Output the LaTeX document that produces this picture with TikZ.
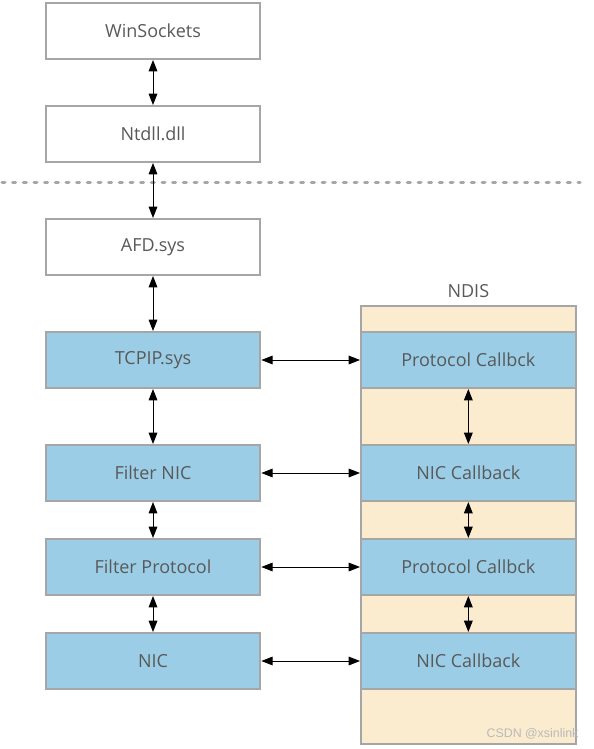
\documentclass[tikz,border=0pt]{standalone}
\usepackage{fontspec}
\setmainfont{Open Sans}
\newfontfamily\markfont{Liberation Sans}
\usepackage{xcolor}
\definecolor{boxblue}{RGB}{155,206,230}
\definecolor{ndisbeige}{RGB}{252,236,207}
\definecolor{edgegray}{RGB}{166,166,166}
\definecolor{textgray}{RGB}{89,89,89}
\usetikzlibrary{arrows.meta, positioning, fit, backgrounds}

\begin{document}
\begin{tikzpicture}[
  plain/.style={rectangle, draw=edgegray, line width=1.5pt, fill=white,
                minimum width=161pt, minimum height=42pt, inner sep=0pt,
                font=\fontsize{13.5}{16}\selectfont, text=textgray},
  stack/.style={plain, fill=boxblue},
  ndisbg/.style={rectangle, draw=edgegray, line width=1.5pt, fill=ndisbeige, inner sep=-0.75pt},
  arr/.style={{Triangle[length=8.5pt,width=6.5pt]}-{Triangle[length=8.5pt,width=6.5pt]}, line width=0.75pt, black},
  sepline/.style={draw=edgegray, line width=2.25pt, line cap=round, dash pattern=on 2.25pt off 5.75pt}
]
\useasboundingbox (0,0) rectangle (444.75pt,-561.75pt);

% user mode / kernel stack
\node[plain] (winsock) at (114.75pt,-23.25pt) {WinSockets};
\node[plain, below=33.75pt of winsock]  (ntdll)       {Ntdll.dll};
\node[plain, below=41.25pt of ntdll]    (afd)         {AFD.sys};
\node[stack, below=41.25pt of afd]      (tcpip)       {TCPIP.sys};
\node[stack, below=41.25pt of tcpip]    (filternic)   {Filter NIC};
\node[stack, below=27pt of filternic]   (filterproto) {Filter Protocol};
\node[stack, below=27pt of filterproto] (nic)         {NIC};

% NDIS column
\node[stack, right=74pt of tcpip]       (pcb1) {Protocol Callbck};
\node[stack, right=74pt of filternic]   (ncb1) {NIC Callback};
\node[stack, right=74pt of filterproto] (pcb2) {Protocol Callbck};
\node[stack, right=74pt of nic]         (ncb2) {NIC Callback};
\coordinate[above=19.5pt of pcb1.north] (ndistop);
\coordinate[below=41.5pt of ncb2.south] (ndisbot);
\begin{scope}[on background layer]
\node[ndisbg, fit=(ndistop)(ndisbot)(pcb1)] (ndis) {};
\end{scope}
\node[above=2pt of ndis.north, text=textgray, font=\fontsize{13.5}{16}\selectfont] (ndislabel) {NDIS};
\node[anchor=south east, inner sep=0pt, text=gray!55, font=\markfont\fontsize{9.3}{10}\selectfont]
  (mark) at ([xshift=1.5pt,yshift=4.5pt]ndis.south east) {CSDN @xsinlink};

% user / kernel boundary
\draw[sepline] (1.5pt,-136.5pt) -- (435pt,-136.5pt);

\draw[arr] (winsock) -- (ntdll);
\draw[arr] (ntdll) -- (afd);
\draw[arr] (afd) -- (tcpip);
\draw[arr] (tcpip) -- (filternic);
\draw[arr] (filternic) -- (filterproto);
\draw[arr] (filterproto) -- (nic);
\draw[arr] (tcpip) -- (pcb1);
\draw[arr] (filternic) -- (ncb1);
\draw[arr] (filterproto) -- (pcb2);
\draw[arr] (nic) -- (ncb2);
\draw[arr] (pcb1) -- (ncb1);
\draw[arr] (ncb1) -- (pcb2);
\draw[arr] (pcb2) -- (ncb2);
\end{tikzpicture}
\end{document}
